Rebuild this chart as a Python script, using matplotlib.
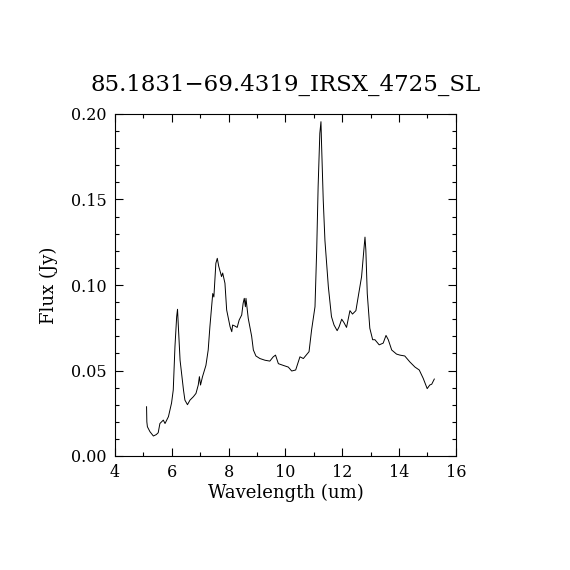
import numpy as np
import matplotlib
matplotlib.use('Agg')
import matplotlib.pyplot as plt
from matplotlib.ticker import MultipleLocator

plt.rcParams['font.family'] = ['DejaVu Serif']

# ========== spectrum ==========
wavelength = [5.11, 5.12, 5.14, 5.23, 5.35, 5.45, 5.52, 5.58, 5.70, 5.76, 5.88,
              5.99, 6.05, 6.11, 6.17, 6.20, 6.23, 6.29, 6.41, 6.46, 6.55, 6.64,
              6.76, 6.85, 6.93, 6.97, 7.01, 7.08, 7.20, 7.28, 7.34, 7.44, 7.48,
              7.55, 7.60, 7.65, 7.72, 7.75, 7.79, 7.87, 7.93, 8.05, 8.11, 8.14,
              8.22, 8.30, 8.37, 8.46, 8.51, 8.55, 8.59, 8.61, 8.69, 8.81, 8.87,
              8.96, 9.10, 9.28, 9.45, 9.57, 9.65, 9.75, 9.92, 10.10, 10.22, 10.36,
              10.51, 10.63, 10.83, 10.92, 11.04, 11.10, 11.15, 11.21, 11.25, 11.27,
              11.33, 11.39, 11.51, 11.62, 11.71, 11.82, 11.89, 11.98, 12.06, 12.15,
              12.27, 12.36, 12.48, 12.56, 12.68, 12.76, 12.80, 12.83, 12.88, 12.97,
              13.07, 13.15, 13.30, 13.44, 13.54, 13.62, 13.74, 13.91, 14.03, 14.20,
              14.38, 14.56, 14.71, 14.85, 14.99, 15.08, 15.15, 15.24]
flux = [0.0288, 0.0200, 0.0171, 0.0142, 0.0117, 0.0125, 0.0136, 0.0190, 0.0210, 0.0190, 0.0230,
        0.0310, 0.0386, 0.0640, 0.0815, 0.0858, 0.0756, 0.0560, 0.0386, 0.0327, 0.0300, 0.0327,
        0.0347, 0.0366, 0.0415, 0.0464, 0.0415, 0.0464, 0.0530, 0.0620, 0.0756, 0.0950, 0.0930,
        0.1127, 0.1156, 0.1110, 0.1068, 0.1049, 0.1070, 0.1010, 0.0854, 0.0756, 0.0727, 0.0766,
        0.0760, 0.0752, 0.0795, 0.0825, 0.0893, 0.0922, 0.0873, 0.0922, 0.0805, 0.0700, 0.0620,
        0.0585, 0.0570, 0.0560, 0.0555, 0.0580, 0.0590, 0.0540, 0.0530, 0.0520, 0.0497, 0.0503,
        0.0580, 0.0570, 0.0610, 0.0737, 0.0873, 0.1205, 0.1575, 0.1887, 0.1955, 0.1830,
        0.1497, 0.1260, 0.0990, 0.0815, 0.0766, 0.0733, 0.0756, 0.0800, 0.0780, 0.0752,
        0.0850, 0.0830, 0.0850, 0.0930, 0.1049, 0.1205, 0.1280, 0.1205, 0.0950, 0.0747,
        0.0680, 0.0680, 0.0650, 0.0660, 0.0705, 0.0680, 0.0620, 0.0596, 0.0590, 0.0585,
        0.0550, 0.0520, 0.0503, 0.0454, 0.0394, 0.0415, 0.0420, 0.0450]

title = '85.1831\u221269.4319_IRSX_4725_SL'

# ========== plot ==========
fig = plt.figure(figsize=(5.7, 5.7), dpi=100)
ax = fig.add_axes([0.2018, 0.2, 0.598, 0.6])
ax.plot(wavelength, flux, color='black', linewidth=0.7)

ax.set_xlim(4, 16)
ax.set_ylim(0, 0.20)
ax.xaxis.set_major_locator(MultipleLocator(2))
ax.xaxis.set_minor_locator(MultipleLocator(1))
ax.yaxis.set_major_locator(MultipleLocator(0.05))
ax.yaxis.set_minor_locator(MultipleLocator(0.01))
ax.yaxis.set_major_formatter(plt.FormatStrFormatter('%.2f'))
ax.tick_params(which='both', direction='in', top=True, right=True,
               labelsize=11.5, width=0.8, pad=6)
ax.tick_params(which='major', length=6)
ax.tick_params(which='minor', length=3)
for s in ax.spines.values():
    s.set_linewidth(0.8)

ax.set_xlabel('Wavelength (um)', fontsize=13, labelpad=2)
ax.set_ylabel('Flux (Jy)', fontsize=13, labelpad=9)
ax.set_title(title, fontsize=16.5, pad=17)

fig.savefig('out.png', dpi=100)
